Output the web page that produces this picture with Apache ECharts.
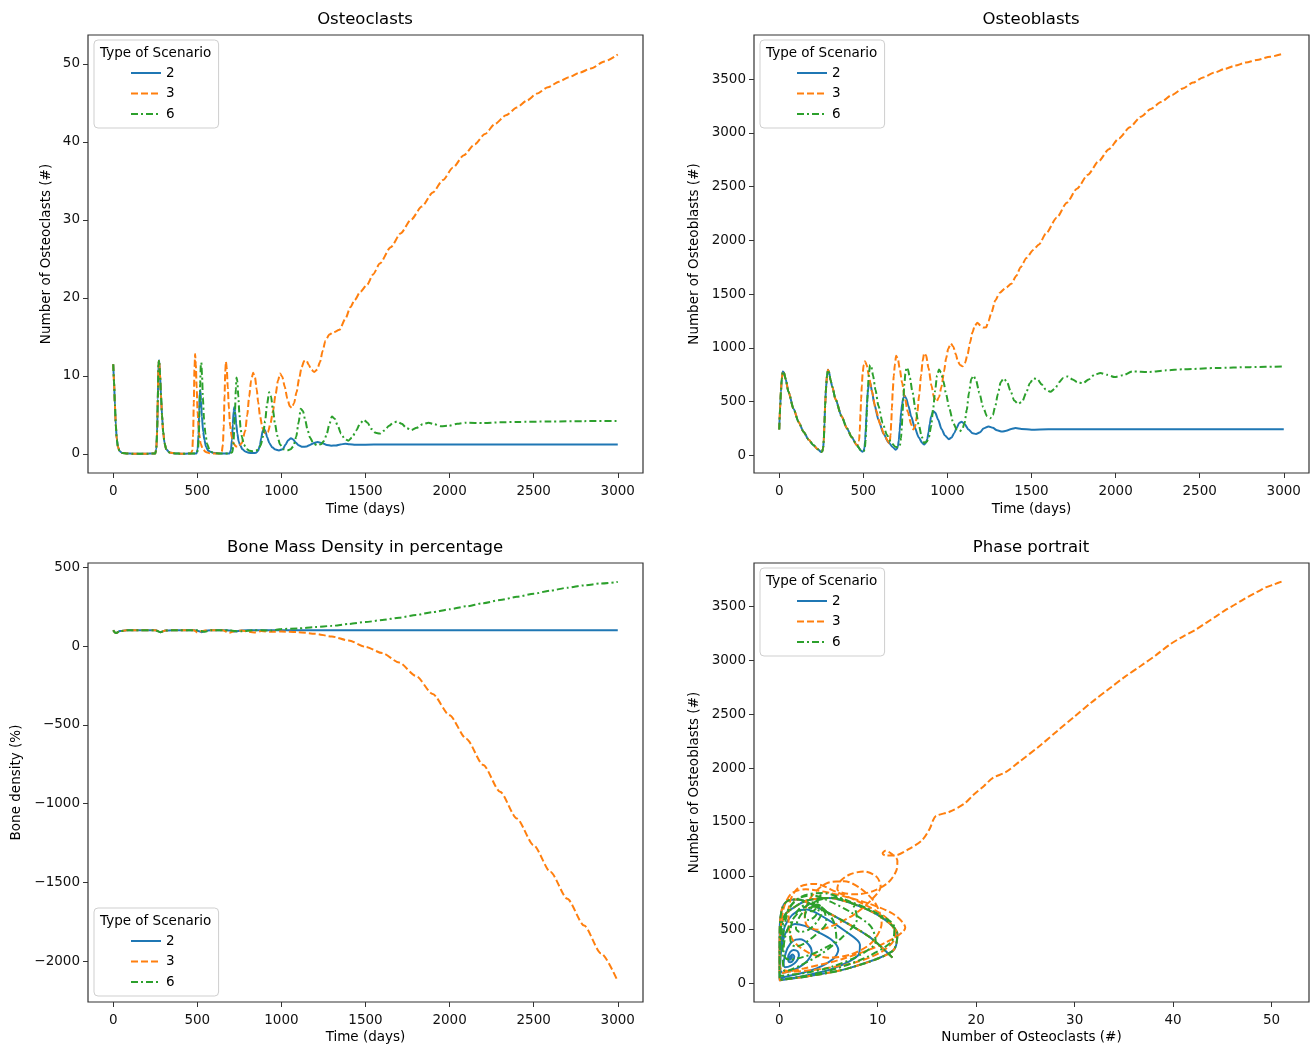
<!DOCTYPE html>
<html>
<head>
<meta charset="utf-8">
<script src="https://cdn.jsdelivr.net/npm/echarts@6/dist/echarts.min.js"></script>
<style>
  html, body { margin: 0; padding: 0; background: #ffffff; }
  #chart { width: 1311px; height: 1046px; }
</style>
</head>
<body>
<div id="chart"></div>
<script>
// ---- Simulated bone-remodelling scenarios: osteoclasts (#), osteoblasts (#) over time (days) ----

// First two remodelling cycles are common to all scenarios
const sharedDays    = [0, 5, 10, 15, 21, 28, 38, 55, 85, 115, 145, 175, 204, 230, 250, 256, 261, 265, 269, 273, 278, 284, 290, 297, 305, 315, 335, 370, 403, 430, 462];
const sharedClasts  = [11.5, 9.2, 6.3, 3.8, 1.9, 0.9, 0.35, 0.1, 0.04, 0.03, 0.03, 0.03, 0.03, 0.04, 0.05, 0.6, 2.8, 7.0, 11.5, 12.0, 10.3, 7.5, 5.0, 2.8, 1.4, 0.6, 0.18, 0.05, 0.03, 0.03, 0.04];
const sharedBlasts  = [240, 430, 590, 710, 780, 770, 710, 590, 433, 310, 217, 145, 93, 55, 30, 38, 65, 140, 300, 460, 620, 740, 795, 770, 700, 640, 520, 365, 250, 170, 93];

// Scenario 2
const days2Tail   = [485, 495, 502, 507, 511, 515, 518, 522, 527, 535, 542, 552, 565, 590, 620, 650, 675, 692, 700, 706, 711, 716, 720, 725, 731, 738, 746, 755, 768, 785, 805, 830, 850, 862, 872, 880, 888, 895, 903, 916, 928, 945, 965, 985, 1008, 1025, 1040, 1057, 1070, 1085, 1102, 1125, 1150, 1170, 1195, 1215, 1245, 1270, 1295, 1325, 1350, 1380, 1405, 1440, 1500, 1600, 1800, 2200, 2600, 3000];
const clasts2Tail = [0.04, 0.05, 0.6, 2.5, 5.5, 8.0, 8.2, 6.8, 4.8, 2.8, 1.8, 0.9, 0.4, 0.15, 0.07, 0.05, 0.05, 0.06, 0.5, 1.8, 3.8, 5.5, 6.0, 5.4, 3.9, 2.6, 1.6, 1.1, 0.6, 0.3, 0.15, 0.1, 0.15, 0.4, 1.1, 2.0, 2.9, 3.3, 3.0, 2.1, 1.4, 0.85, 0.55, 0.45, 0.6, 1.2, 1.75, 2.0, 1.85, 1.45, 1.1, 0.9, 0.95, 1.15, 1.4, 1.53, 1.35, 1.15, 1.05, 1.08, 1.2, 1.3, 1.25, 1.18, 1.18, 1.21, 1.2, 1.2, 1.2, 1.2];
const blasts2Tail = [45, 32, 40, 70, 140, 260, 360, 480, 600, 687, 670, 590, 480, 330, 200, 120, 75, 52, 60, 85, 140, 230, 310, 400, 480, 535, 553, 530, 460, 360, 260, 165, 115, 100, 115, 150, 215, 290, 360, 410, 395, 330, 245, 185, 150, 165, 205, 260, 300, 312, 290, 240, 205, 197, 215, 250, 268, 255, 232, 220, 228, 245, 253, 245, 238, 242, 241, 241, 241, 241];

// Scenario 3
const days3Tail   = [470, 475, 479, 483, 487, 491, 496, 502, 510, 520, 533, 550, 575, 600, 625, 645, 652, 657, 662, 666, 670, 675, 681, 688, 695, 705, 716, 730, 745, 765, 785, 797, 808, 820, 832, 843, 853, 862, 873, 888, 905, 920, 935, 950, 965, 980, 992, 1005, 1020, 1035, 1050, 1062, 1075, 1090, 1105, 1120, 1135, 1148, 1163, 1178, 1195, 1212, 1230, 1245, 1262, 1285, 1310, 1345, 1380, 1410, 1435, 1470, 1510, 1545, 1585, 1650, 1710, 1770, 1835, 1900, 1960, 2020, 2085, 2150, 2210, 2270, 2335, 2400, 2460, 2520, 2585, 2650, 2710, 2775, 2840, 2920, 3000];
const clasts3Tail = [0.4, 2.5, 6.5, 10.8, 12.8, 11.5, 8.5, 5.2, 2.7, 1.3, 0.6, 0.25, 0.08, 0.05, 0.04, 0.2, 1.2, 3.5, 7.5, 10.5, 11.8, 11.0, 8.5, 5.8, 3.6, 2.1, 1.3, 0.95, 0.95, 1.4, 3.0, 5.0, 7.3, 9.4, 10.4, 9.8, 8.3, 6.6, 4.8, 3.3, 2.6, 2.8, 3.9, 5.5, 7.6, 9.4, 10.3, 9.9, 8.6, 7.1, 6.1, 5.9, 6.5, 7.9, 9.6, 11.1, 11.9, 12.0, 11.4, 10.8, 10.5, 10.8, 11.8, 13.2, 14.5, 15.3, 15.6, 15.9, 17.3, 18.8, 19.7, 20.8, 21.7, 23.0, 24.4, 26.5, 28.3, 30.0, 31.7, 33.5, 35.1, 36.7, 38.3, 39.7, 41.0, 42.3, 43.4, 44.4, 45.3, 46.2, 47.0, 47.7, 48.3, 48.9, 49.4, 50.3, 51.2];
const blasts3Tail = [100, 140, 230, 380, 520, 650, 760, 840, 874, 840, 740, 600, 420, 290, 190, 135, 112, 125, 190, 300, 440, 600, 740, 850, 925, 900, 810, 680, 550, 400, 285, 240, 270, 380, 560, 740, 880, 950, 930, 810, 650, 540, 500, 540, 640, 780, 900, 990, 1040, 1010, 940, 875, 840, 828, 860, 940, 1050, 1140, 1205, 1232, 1210, 1188, 1190, 1250, 1330, 1440, 1510, 1555, 1595, 1670, 1750, 1835, 1910, 1962, 2060, 2210, 2350, 2480, 2610, 2737, 2848, 2948, 3052, 3150, 3222, 3286, 3352, 3412, 3467, 3515, 3558, 3595, 3625, 3654, 3678, 3708, 3739];

// Scenario 6
const days6Tail   = [485, 495, 504, 509, 513, 517, 521, 524, 528, 533, 540, 548, 558, 572, 590, 615, 640, 665, 690, 708, 714, 719, 724, 729, 733, 738, 744, 750, 757, 765, 777, 792, 810, 830, 848, 862, 877, 890, 903, 915, 927, 938, 950, 962, 976, 992, 1012, 1035, 1055, 1072, 1088, 1102, 1115, 1128, 1142, 1155, 1170, 1190, 1212, 1235, 1255, 1270, 1285, 1300, 1317, 1335, 1355, 1375, 1397, 1420, 1445, 1468, 1490, 1512, 1535, 1560, 1585, 1612, 1640, 1665, 1688, 1715, 1745, 1772, 1805, 1840, 1875, 1910, 1950, 1995, 2045, 2100, 2200, 2300, 2400, 2600, 2800, 3000];
const clasts6Tail = [0.04, 0.04, 0.5, 2.3, 5.5, 9.0, 11.5, 11.7, 10.0, 7.2, 4.4, 2.6, 1.3, 0.55, 0.2, 0.07, 0.05, 0.04, 0.04, 0.2, 1.0, 2.8, 5.5, 8.3, 9.8, 9.3, 7.3, 5.2, 3.4, 2.2, 1.2, 0.65, 0.4, 0.35, 0.4, 0.55, 1.1, 2.2, 4.2, 6.4, 7.9, 7.4, 5.6, 3.8, 2.3, 1.2, 0.6, 0.45, 0.6, 1.0, 2.2, 4.0, 5.8, 5.5, 4.3, 3.1, 2.1, 1.35, 1.1, 1.25, 1.7, 2.6, 3.8, 4.8, 4.5, 3.6, 2.6, 1.95, 1.7, 2.1, 3.0, 3.9, 4.35, 4.0, 3.2, 2.7, 2.6, 3.0, 3.6, 4.0, 4.15, 3.85, 3.3, 3.05, 3.35, 3.8, 4.0, 3.8, 3.55, 3.6, 3.85, 4.0, 3.95, 4.05, 4.1, 4.15, 4.2, 4.22];
const blasts6Tail = [45, 32, 40, 65, 130, 250, 400, 520, 650, 760, 840, 820, 740, 610, 460, 300, 190, 120, 80, 72, 80, 100, 160, 270, 390, 530, 660, 760, 818, 800, 720, 590, 430, 280, 170, 115, 125, 170, 270, 430, 600, 740, 797, 770, 690, 570, 430, 300, 240, 222, 240, 300, 420, 580, 710, 740, 700, 580, 450, 365, 344, 375, 460, 570, 680, 715, 680, 600, 510, 478, 500, 580, 670, 715, 710, 660, 610, 590, 620, 680, 720, 733, 705, 680, 670, 705, 750, 765, 748, 727, 745, 780, 775, 790, 800, 812, 820, 827];

// Bone mass density (%) on a common day grid
const densityDays = [0, 15, 40, 80, 250, 280, 310, 350, 480, 500, 525, 545, 580, 650, 690, 725, 760, 840, 880, 940, 1000, 1100, 1200, 1300, 1400, 1500, 1600, 1700, 1800, 1900, 2000, 2100, 2200, 2300, 2400, 2500, 2600, 2700, 2800, 2900, 3000];
const density2 = [100, 82, 95, 100, 100, 88, 98, 100, 100, 97, 88, 96, 100, 100, 99, 92, 99, 100, 100, 100, 100, 100, 100, 100, 100, 100, 100, 100, 100, 100, 100, 100, 100, 100, 100, 100, 100, 100, 100, 100, 100];
const density3 = [100, 82, 95, 100, 100, 88, 98, 100, 100, 86, 94, 98, 100, 100, 84, 95, 98, 86, 95, 90, 92, 88, 78, 60, 35, -5, -45, -105, -190, -305, -440, -590, -755, -925, -1095, -1265, -1435, -1605, -1775, -1950, -2129];
const density6 = [100, 82, 95, 100, 100, 88, 98, 100, 100, 100, 95, 90, 100, 100, 100, 95, 93, 100, 100, 98, 108, 112, 120, 128, 140, 152, 165, 180, 197, 215, 233, 252, 272, 292, 312, 332, 352, 370, 385, 397, 407];

// Tick labels
const dayTicks     = [0, 500, 1000, 1500, 2000, 2500, 3000];
const clastTicks   = [0, 10, 20, 30, 40, 50];
const blastTicks   = [0, 500, 1000, 1500, 2000, 2500, 3000, 3500];
const densityTicks = [-2000, -1500, -1000, -500, 0, 500];

const scenarioNames = ['2', '3', '6'];

// ---- assemble full scenario tracks ----
const days2 = sharedDays.concat(days2Tail), clasts2 = sharedClasts.concat(clasts2Tail), blasts2 = sharedBlasts.concat(blasts2Tail);
const days3 = sharedDays.concat(days3Tail), clasts3 = sharedClasts.concat(clasts3Tail), blasts3 = sharedBlasts.concat(blasts3Tail);
const days6 = sharedDays.concat(days6Tail), clasts6 = sharedClasts.concat(clasts6Tail), blasts6 = sharedBlasts.concat(blasts6Tail);

const zip = (xs, ys) => xs.map((x, i) => [x, ys[i]]);

const tracks = {
  '2': { days: days2, clasts: clasts2, blasts: blasts2, density: density2 },
  '3': { days: days3, clasts: clasts3, blasts: blasts3, density: density3 },
  '6': { days: days6, clasts: clasts6, blasts: blasts6, density: density6 }
};

const lineLook = {
  '2': { color: '#1f77b4', type: 'solid' },
  '3': { color: '#ff7f0e', type: [7, 3] },
  '6': { color: '#2ca02c', type: [7, 3, 2, 3] }
};

const FONT = '"DejaVu Sans", "Noto Sans", sans-serif';
const minus = v => String(v).replace('-', '\u2212');

function makeLine(name, panel, data, timeSeries) {
  const look = lineLook[name];
  return {
    type: 'line', name: name,
    xAxisIndex: panel, yAxisIndex: panel,
    data: data,
    symbol: 'none', showSymbol: false,
    smooth: timeSeries ? 0.25 : 0.3,
    smoothMonotone: timeSeries ? 'x' : undefined,
    lineStyle: { width: 2, color: look.color, type: look.type },
    itemStyle: { color: look.color },
    emphasis: { disabled: true },
    animation: false
  };
}

const series = [];
scenarioNames.forEach(n => series.push(makeLine(n, 0, zip(tracks[n].days, tracks[n].clasts), true)));
scenarioNames.forEach(n => series.push(makeLine(n, 1, zip(tracks[n].days, tracks[n].blasts), true)));
scenarioNames.forEach(n => series.push(makeLine(n, 2, zip(densityDays, tracks[n].density), true)));
scenarioNames.forEach(n => series.push(makeLine(n, 3, zip(tracks[n].clasts, tracks[n].blasts), false)));

const grids = [
  { left: 88,  top: 35,  width: 555, height: 438 },
  { left: 754, top: 35,  width: 555, height: 438 },
  { left: 88,  top: 563, width: 555, height: 439 },
  { left: 754, top: 563, width: 555, height: 439 }
].map(g => Object.assign(g, { show: true, borderColor: '#333333', borderWidth: 1.2, backgroundColor: 'transparent' }));

function axis(gridIndex, min, max, ticks, name, nameGap, isY) {
  return {
    type: 'value', gridIndex, min, max,
    position: isY ? 'left' : 'bottom',
    name, nameLocation: 'middle', nameGap,
    nameTextStyle: { fontFamily: FONT, fontSize: 13.5, color: '#000' },
    axisLine: { show: false, onZero: false },
    splitLine: { show: false },
    axisTick: { show: true, inside: false, length: 5, customValues: ticks, lineStyle: { color: '#333', width: 1 } },
    axisLabel: { show: true, customValues: ticks, margin: isY ? 8 : 11, fontFamily: FONT, fontSize: 13.5, color: '#111', formatter: minus }
  };
}

const xAxes = [
  axis(0, -150, 3150, dayTicks, 'Time (days)', 29, false),
  axis(1, -150, 3150, dayTicks, 'Time (days)', 29, false),
  axis(2, -150, 3150, dayTicks, 'Time (days)', 28, false),
  axis(3, -2.56, 53.8, clastTicks, 'Number of Osteoclasts (#)', 28, false)
];
const yAxes = [
  axis(0, -2.45, 53.7, clastTicks, 'Number of Osteoclasts (#)', 35, true),
  axis(1, -165, 3910, blastTicks, 'Number of Osteoblasts (#)', 53, true),
  axis(2, -2260, 527, densityTicks, 'Bone density (%)', 65, true),
  axis(3, -172, 3905, blastTicks, 'Number of Osteoblasts (#)', 53, true)
];

const legendSpots = [[94, 40], [760, 40], [94, 908], [760, 568]];
const legends = legendSpots.map(([l, t]) => ({
  left: l, top: t, orient: 'vertical',
  data: scenarioNames,
  padding: [26, 44, 7, 36],
  itemWidth: 30, itemHeight: 14, itemGap: 6.5,
  itemStyle: { opacity: 0 },
  backgroundColor: 'rgba(255,255,255,0.85)',
  borderColor: '#cfcfcf', borderWidth: 1, borderRadius: 4,
  selectedMode: false,
  textStyle: { fontFamily: FONT, fontSize: 13.5, color: '#000' }
}));

const titleText = (x, y, text) => ({
  type: 'text', x, y, z: 100,
  style: { text, font: '16.5px ' + FONT, fill: '#000', textAlign: 'center', textVerticalAlign: 'middle' }
});
const legendTitle = (x, y) => ({
  type: 'text', x, y, z: 100,
  style: { text: 'Type of Scenario', font: '13.5px ' + FONT, fill: '#000', textAlign: 'left', textVerticalAlign: 'middle' }
});

const chart = echarts.init(document.getElementById('chart'), null, { renderer: 'canvas' });
chart.setOption({
  animation: false,
  backgroundColor: '#ffffff',
  textStyle: { fontFamily: FONT },
  grid: grids,
  xAxis: xAxes,
  yAxis: yAxes,
  legend: legends,
  series: series,
  graphic: [
    titleText(365, 20, 'Osteoclasts'),
    titleText(1031, 20, 'Osteoblasts'),
    titleText(365, 548, 'Bone Mass Density in percentage'),
    titleText(1031, 548, 'Phase portrait'),
    legendTitle(100, 53),
    legendTitle(766, 53),
    legendTitle(100, 921),
    legendTitle(766, 581)
  ]
});
</script>
</body>
</html>
